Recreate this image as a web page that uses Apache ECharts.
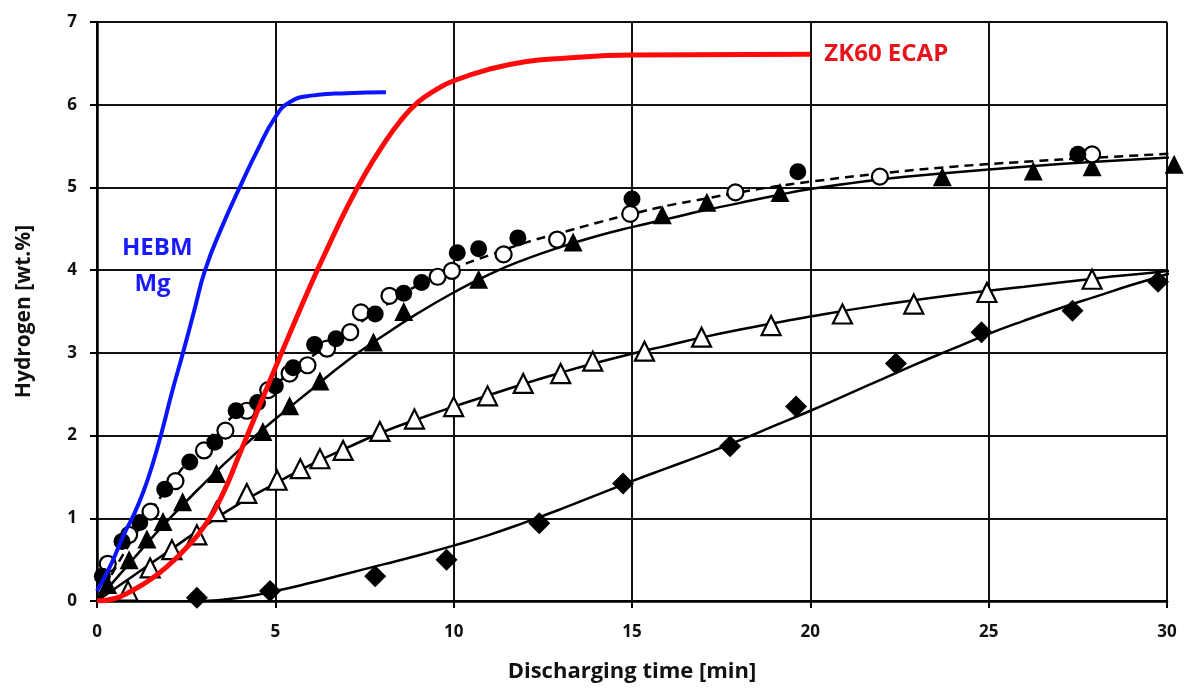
<!DOCTYPE html>
<html>
<head>
<meta charset="utf-8">
<script src="https://cdn.jsdelivr.net/npm/echarts@6/dist/echarts.min.js"></script>
<style>
  html, body { margin: 0; padding: 0; background: #fff; }
  #chart { width: 1194px; height: 688px; }
</style>
</head>
<body>
<div id="chart"></div>
<script>
// x ticks / y ticks
var xTicks = [0, 5, 10, 15, 20, 25, 30];
var yTicks = [0, 1, 2, 3, 4, 5, 6, 7];

// HEBM Mg (blue) and ZK60 ECAP (red) curves
var hebmMg = [[0,0.12],[0.4,0.45],[0.75,0.8],[1.05,1.06],[1.3,1.32],[1.55,1.64],[1.82,2.05],[2.1,2.52],[2.41,3.0],[2.72,3.5],[3.03,4.0],[3.5,4.52],[4.0,5.0],[4.5,5.45],[5.0,5.85],[5.4,6.03],[6,6.11],[7,6.14],[8.1,6.15]];
var zk60Ecap = [[0,0],[0.5,0.03],[1,0.13],[1.5,0.26],[2,0.43],[2.5,0.64],[3,0.9],[3.5,1.27],[4,1.78],[4.5,2.3],[5,2.82],[5.5,3.33],[6,3.83],[6.5,4.3],[7,4.75],[7.5,5.15],[8,5.5],[8.5,5.8],[9,6.03],[9.5,6.18],[10,6.29],[11,6.43],[12,6.52],[13,6.56],[15,6.6],[20,6.61]];

// measured points
var filledCircles = [[0.15,0.3],[0.7,0.72],[1.2,0.95],[1.9,1.35],[2.6,1.68],[3.3,1.92],[3.9,2.3],[4.5,2.4],[5.0,2.6],[5.5,2.82],[6.1,3.1],[6.7,3.17],[7.8,3.47],[8.6,3.72],[9.1,3.85],[10.1,4.21],[10.7,4.26],[11.8,4.39],[15.0,4.86],[19.65,5.19],[27.5,5.4]];
var openCircles = [[0.3,0.45],[0.9,0.8],[1.5,1.08],[2.2,1.45],[3.0,1.82],[3.6,2.06],[4.2,2.3],[4.8,2.55],[5.4,2.75],[5.9,2.85],[6.45,3.05],[7.1,3.25],[7.4,3.49],[8.2,3.69],[9.55,3.92],[9.95,3.99],[11.4,4.19],[12.9,4.37],[14.95,4.68],[17.9,4.94],[21.95,5.13],[27.9,5.4]];
var filledTriangles = [[0.3,0.2],[0.9,0.5],[1.4,0.75],[1.85,0.96],[2.4,1.2],[3.35,1.54],[4.65,2.05],[5.4,2.36],[6.25,2.66],[7.75,3.13],[8.6,3.5],[10.7,3.89],[13.35,4.34],[15.85,4.67],[17.1,4.82],[19.15,4.94],[23.7,5.13],[26.25,5.2],[27.9,5.25],[30.2,5.28]];
var openTriangles = [[0.87,0.12],[1.49,0.4],[2.1,0.62],[2.8,0.8],[3.35,1.08],[4.2,1.3],[5.05,1.46],[5.7,1.6],[6.25,1.72],[6.9,1.82],[7.93,2.05],[8.9,2.2],[10,2.35],[10.95,2.48],[11.95,2.63],[13.0,2.75],[13.9,2.9],[15.35,3.02],[16.95,3.19],[18.9,3.33],[20.9,3.47],[22.9,3.59],[24.95,3.73],[27.9,3.89]];
var filledDiamonds = [[2.8,0.04],[4.85,0.12],[7.8,0.3],[9.8,0.5],[12.4,0.94],[14.75,1.42],[17.75,1.87],[19.6,2.35],[22.4,2.87],[24.8,3.25],[27.35,3.51],[29.75,3.86]];

// fitted curves
var circleFit = [[0,0],[1,0.75],[2,1.38],[3,1.9],[4,2.3],[5,2.62],[6,2.95],[7,3.25],[8,3.55],[9,3.82],[10,4.02],[11,4.18],[12,4.33],[13,4.45],[14,4.57],[15,4.68],[16,4.78],[17,4.86],[18,4.94],[19,5.01],[20,5.07],[22,5.17],[24,5.25],[26,5.31],[28,5.36],[30.7,5.42]];
var triangleFit = [[0,0],[1,0.5],[2,0.98],[3,1.42],[4,1.83],[5,2.2],[6,2.55],[7,2.9],[8,3.2],[9,3.48],[10,3.73],[11,3.95],[12,4.13],[13,4.28],[14,4.41],[15,4.52],[16,4.62],[17,4.72],[18,4.81],[19,4.9],[20,4.98],[22,5.1],[24,5.18],[26,5.25],[28,5.31],[30.7,5.38]];
var openTriangleFit = [[0,0],[1,0.3],[2,0.6],[3,0.9],[4,1.18],[5,1.42],[6,1.65],[7,1.85],[8,2.04],[9,2.2],[10,2.35],[11,2.49],[12,2.63],[13,2.76],[14,2.88],[15,2.99],[16,3.09],[17,3.19],[18,3.28],[19,3.36],[20,3.44],[22,3.58],[24,3.7],[26,3.8],[28,3.9],[30,3.99],[30.7,4.04]];
var diamondFit = [[3,0],[4,0.04],[5,0.12],[6,0.22],[7,0.33],[8,0.44],[9,0.55],[10,0.67],[11,0.8],[12,0.95],[13,1.11],[14,1.28],[15,1.45],[16,1.61],[17,1.77],[18,1.94],[19,2.12],[20,2.3],[21,2.49],[22,2.68],[23,2.87],[24,3.05],[25,3.23],[26,3.39],[27,3.54],[28,3.68],[29,3.82],[30,3.95],[30.7,4.05]];

var FONT = 'Open Sans';

function fitLine(data, dashed) {
    return {
        type: 'line', data: data, smooth: true, showSymbol: false, clip: false, z: 2,
        lineStyle: { color: '#000', width: 2.5, type: dashed ? [9, 6] : 'solid' }
    };
}
function markers(data, symbol, size, open) {
    return {
        type: 'scatter', data: data, symbol: symbol, symbolSize: size, clip: false, z: 3,
        itemStyle: open ? { color: '#fff', borderColor: '#000', borderWidth: 2.2, opacity: 1 }
                        : { color: '#000', opacity: 1 }
    };
}

var chart = echarts.init(document.getElementById('chart'));
chart.setOption({
    animation: false,
    grid: { left: 97, right: 27, top: 22, bottom: 85 },
    xAxis: {
        type: 'value', min: xTicks[0], max: xTicks[xTicks.length - 1], interval: 5,
        name: 'Discharging time [min]', nameLocation: 'middle', nameGap: 60,
        nameTextStyle: { fontFamily: FONT, fontWeight: 'bold', fontSize: 22, color: '#111' },
        axisLine: { lineStyle: { color: '#000', width: 2.5 } },
        axisTick: { show: true, length: 7, lineStyle: { color: '#000', width: 2 } },
        axisLabel: { fontFamily: FONT, fontWeight: 'bold', fontSize: 17, color: '#111', margin: 23 },
        splitLine: { lineStyle: { color: '#111', width: 2 } }
    },
    yAxis: {
        type: 'value', min: yTicks[0], max: yTicks[yTicks.length - 1], interval: 1,
        name: 'Hydrogen [wt.%]', nameLocation: 'middle', nameGap: 62, nameRotate: 90,
        nameTextStyle: { fontFamily: FONT, fontWeight: 'bold', fontSize: 21, color: '#111' },
        axisLine: { show: true, lineStyle: { color: '#000', width: 2.5 } },
        axisTick: { show: true, length: 7, lineStyle: { color: '#000', width: 2 } },
        axisLabel: { fontFamily: FONT, fontWeight: 'bold', fontSize: 17, color: '#111', margin: 20 },
        splitLine: { lineStyle: { color: '#111', width: 2 } }
    },
    graphic: [{
        type: 'text', left: 122, top: 230,
        style: { text: 'HEBM\n  Mg', fill: '#1a1aff', font: 'bold 24px "Open Sans"', lineHeight: 36 }
    }],
    series: [
        fitLine(circleFit, true),
        fitLine(triangleFit, false),
        fitLine(openTriangleFit, false),
        fitLine(diamondFit, false),
        markers(filledDiamonds, 'diamond', 22, false),
        markers(openTriangles, 'triangle', 19, true),
        markers(filledTriangles, 'triangle', 19, false),
        markers(openCircles, 'circle', 16, true),
        markers(filledCircles, 'circle', 17, false),
        {
            type: 'line', data: hebmMg, smooth: true, showSymbol: false, z: 4,
            lineStyle: { color: '#0a14ff', width: 4 }
        },
        {
            type: 'line', data: zk60Ecap, smooth: true, showSymbol: false, z: 5,
            lineStyle: { color: '#ff0a0a', width: 5 },
            endLabel: {
                show: true, formatter: 'ZK60 ECAP', distance: 14,
                fontFamily: FONT, fontWeight: 'bold', fontSize: 24, color: '#e8141c'
            }
        }
    ]
});
</script>
</body>
</html>
